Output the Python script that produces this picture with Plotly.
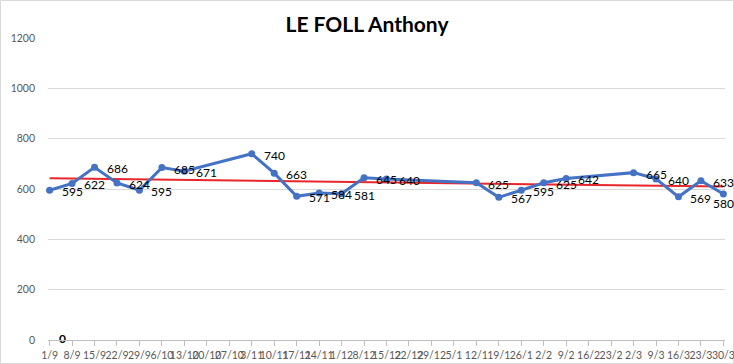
import numpy as np
import pandas as pd
import plotly.graph_objects as go

dates = ["2014-09-01", "2014-09-08", "2014-09-15", "2014-09-22", "2014-09-29",
         "2014-10-06", "2014-10-13", "2014-11-03", "2014-11-10", "2014-11-17",
         "2014-11-24", "2014-12-01", "2014-12-08", "2014-12-15", "2015-01-12",
         "2015-01-19", "2015-01-26", "2015-02-02", "2015-02-09", "2015-03-02",
         "2015-03-09", "2015-03-16", "2015-03-23", "2015-03-30"]
values = [595, 622, 686, 624, 595, 685, 671, 740, 663, 571, 584, 581, 645, 640,
          625, 567, 595, 625, 642, 665, 640, 569, 633, 580]
title = "LE FOLL Anthony"
stray_label_date = ["2014-09-05"]
stray_label_value = [0]

d = pd.to_datetime(dates)
days = np.array([(x - d[0]).days for x in d], dtype=float)
slope, intercept = np.polyfit(days, np.array(values, dtype=float), 1)
trend_x = [d[0], d[-1]]
trend_y = [intercept, intercept + slope * days[-1]]

fig = go.Figure()
fig.add_trace(go.Scatter(
    x=trend_x, y=trend_y, mode="lines",
    line=dict(color="#E8262B", width=2), hoverinfo="skip", showlegend=False))
fig.add_trace(go.Scatter(
    x=dates, y=values, mode="lines+markers",
    line=dict(color="#4472C4", width=3),
    marker=dict(color="#4472C4", size=7),
    cliponaxis=False, showlegend=False))
fig.add_trace(go.Scatter(
    x=stray_label_date, y=stray_label_value, mode="text",
    text=["<b>0</b>"], textposition="middle center",
    textfont=dict(family="Lato, sans-serif", size=12, color="#000000"),
    showlegend=False, cliponaxis=False))

label_font = dict(family="Lato, Noto Sans, sans-serif", size=12, color="#000000")
annotations = []
for i, (x, v) in enumerate(zip(dates, values)):
    last = i == len(values) - 1
    annotations.append(dict(
        x=x, y=v, xref="x", yref="y", text=str(v), showarrow=False,
        xanchor="center" if last else "left", yanchor="middle",
        xshift=0 if last else 10, yshift=-9 if last else -1.5, font=label_font))

L, R, T, B = 48, 9, 38, 24
W, H = 734, 364
pw, ph = W - L - R, H - T - B

fig.update_layout(
    width=W, height=H,
    margin=dict(l=L, r=R, t=T, b=B, autoexpand=False),
    paper_bgcolor="white", plot_bgcolor="white",
    title=dict(text="<b>" + title + "</b>", x=0.5, xanchor="center",
               y=1 - 25 / H, yanchor="middle",
               font=dict(family="Lato, Noto Sans, sans-serif", size=21, color="#000000")),
    xaxis=dict(
        type="date", automargin=False,
        range=["2014-08-31 12:00", "2015-03-30 12:00"],
        tick0="2014-09-01", dtick=7 * 86400000, tickformat="%-d/%-m",
        tickangle=0, showgrid=False, showline=True, linecolor="#BFBFBF",
        ticks="outside", ticklen=5, tickcolor="#BFBFBF",
        ticklabeloverflow="allow",
        tickfont=dict(family="Lato, sans-serif", size=10.5, color="#595959"),
        zeroline=False),
    yaxis=dict(
        range=[0, 1200], dtick=200, showgrid=True, gridcolor="#D9D9D9",
        zeroline=False, showline=False, ticks="", automargin=False,
        tickfont=dict(family="Lato, sans-serif", size=10.5, color="#595959"),
        ticklabelstandoff=12),
    annotations=annotations,
    shapes=[dict(type="rect", xref="paper", yref="paper",
                 x0=-(L - 0.5) / pw, x1=(W - L - 0.5) / pw,
                 y0=-(B - 0.5) / ph, y1=(H - B - 0.5) / ph,
                 line=dict(color="#D9D9D9", width=1), layer="below")],
)

fig.write_html("out.html", config={"displayModeBar": False},
               post_script="document.body.style.margin='0';")
